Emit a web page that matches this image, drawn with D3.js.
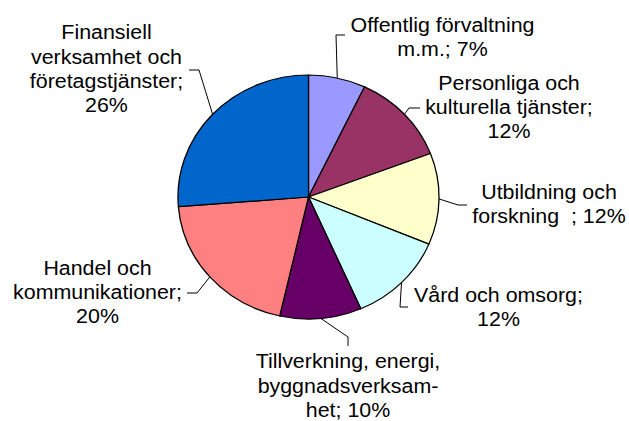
<!DOCTYPE html>
<html>
<head>
<meta charset="utf-8">
<script src="https://cdn.jsdelivr.net/npm/d3@7"></script>
<style>
  html, body { margin: 0; padding: 0; background: #fff; }
  text { font-family: "Liberation Sans", Arial, sans-serif; font-size: 20px; fill: #000; white-space: pre; }
</style>
</head>
<body>
<script>
// data
const categories = [
  'Offentlig förvaltning m.m.',
  'Personliga och kulturella tjänster',
  'Utbildning och forskning  ',
  'Vård och omsorg',
  'Tillverkning, energi, byggnadsverksamhet',
  'Handel och kommunikationer',
  'Finansiell verksamhet och företagstjänster'
];
const values = [7, 12, 12, 12, 10, 20, 26];
const labelLines = [
  ['Offentlig förvaltning', 'm.m.; 7%'],
  ['Personliga och', 'kulturella tjänster;', '12%'],
  ['Utbildning och', 'forskning  ; 12%'],
  ['Vård och omsorg;', '12%'],
  ['Tillverkning, energi,', 'byggnadsverksam-', 'het; 10%'],
  ['Handel och', 'kommunikationer;', '20%'],
  ['Finansiell', 'verksamhet och', 'företagstjänster;', '26%']
];
const colors = ['#9999ff', '#993366', '#ffffcc', '#ccffff', '#660066', '#ff8080', '#0066cc'];

// layout (picture coordinates)
const W = 629, H = 421;
const sx = 1.07;           // picture is stretched horizontally
const cx = 308.5, cy = 197, r = 122;
const lineH = 24.2;
const labelPos = [[442.5, 31.7], [509, 90], [549, 199], [498.5, 302], [348, 368.5], [97.5, 275], [106.5, 39.5]];
const leaderPts = [
  [[336, 35], [345, 35]],
  [[409, 108], [420, 108]],
  [[458, 205], [467, 205]],
  [[400, 307], [408, 307]],
  [[348, 337], [348, 346]],
  [[197, 293], [187, 293]],
  [[199, 70], [189, 70]]
];

const svg = d3.select('body').append('svg').attr('width', W).attr('height', H);
const g = svg.append('g').attr('transform', `scale(${sx},1)`);

const pie = d3.pie().sort(null).value(d => d);
const arcs = pie(values);
const arc = d3.arc().innerRadius(0).outerRadius(r);
const edge = d3.arc().innerRadius(r).outerRadius(r);

g.append('g')
  .attr('transform', `translate(${cx / sx},${cy})`)
  .selectAll('path')
  .data(arcs)
  .join('path')
  .attr('d', arc)
  .attr('fill', (d, i) => colors[i])
  .attr('stroke', '#000')
  .attr('stroke-width', 1.2)
  .attr('stroke-linejoin', 'round');

// leader lines
const line = d3.line();
svg.append('g')
  .selectAll('path')
  .data(arcs)
  .join('path')
  .attr('d', (d, i) => {
    const c = edge.centroid(d);
    return line([[cx + c[0] * sx, cy + c[1]], ...leaderPts[i]]);
  })
  .attr('fill', 'none')
  .attr('stroke', '#000')
  .attr('stroke-width', 1);

// labels
const lg = g.append('g');
labelLines.forEach((lines, i) => {
  const t = lg.append('text')
    .attr('text-anchor', 'middle')
    .attr('x', labelPos[i][0] / sx)
    .attr('y', labelPos[i][1]);
  t.selectAll('tspan')
    .data(lines)
    .join('tspan')
    .attr('x', labelPos[i][0] / sx)
    .attr('y', (d, j) => labelPos[i][1] + j * lineH)
    .text(d => d);
});
</script>
</body>
</html>
